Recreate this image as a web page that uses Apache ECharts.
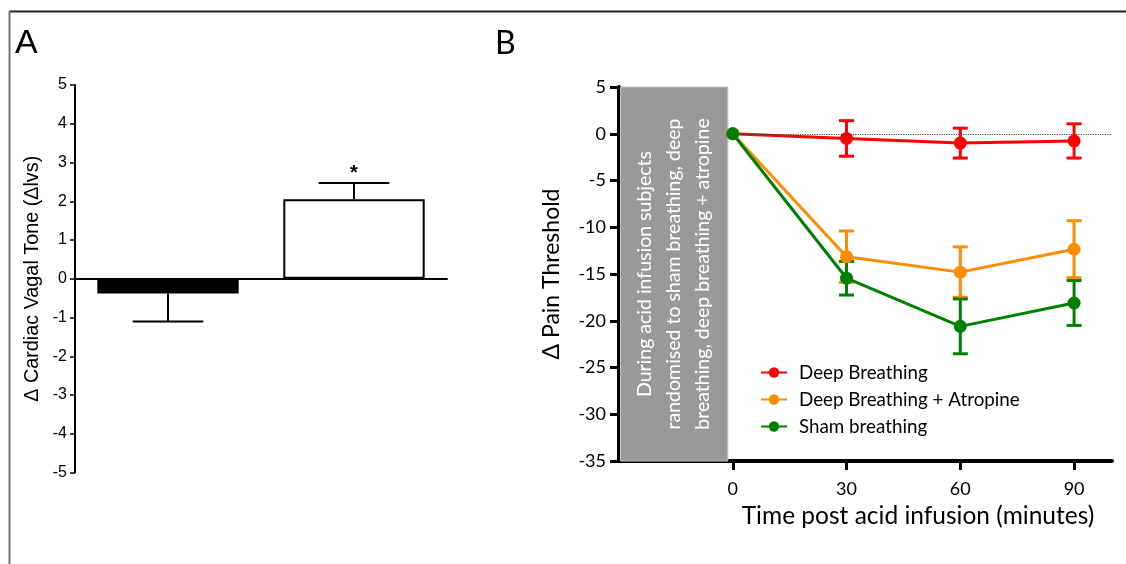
<!DOCTYPE html>
<html><head><meta charset="utf-8">
<script src="https://cdn.jsdelivr.net/npm/echarts@6/dist/echarts.min.js"></script>
<style>html,body{margin:0;padding:0;background:#fff}#c{width:1126px;height:564px}</style>
</head><body><div id="c"></div>
<script>
// ---- Panel A data ----
const groupsA = ['Sham breathing', 'Deep breathing'];
const meanA = [-0.38, 2.05];
const semA = [0.72, 0.42];
const sigA = ['', '*'];

// ---- Panel B data ----
const timeB = [0, 30, 60, 90];
const deepMean = [0, -0.5, -1.0, -0.77];
const deepErr = [0, 1.9, 1.6, 1.83];
const atroMean = [0, -13.15, -14.8, -12.35];
const atroErr = [0, 2.75, 2.7, 3.05];
const shamMean = [0, -15.45, -20.6, -18.1];
const shamErr = [0, 1.8, 2.93, 2.4];
const legendNames = ['Deep Breathing', 'Deep Breathing + Atropine', 'Sham breathing'];
const xTicksB = [0, 30, 60, 90];
const boxRange = [-29.6, -1.3];
const boxText = ['During acid infusion subjects', 'randomised to sham breathing, deep', 'breathing, deep breathing + atropine'];

const FB = 'Lato';
const FA = 'Liberation Sans';
const colors = ['#ff0000', '#ff8c00', '#008000'];

const chart = echarts.init(document.getElementById('c'), null, {renderer: 'canvas'});

function errSeriesB(mean, err, color) {
  return {
    type: 'custom', xAxisIndex: 1, yAxisIndex: 1, silent: true, z: 3,
    data: timeB.map((t, i) => [t, mean[i] - err[i], mean[i] + err[i]]),
    renderItem: function (params, api) {
      const lo = api.value(1), hi = api.value(2);
      if (hi - lo < 1e-6) return null;
      const p1 = api.coord([api.value(0), lo]);
      const p2 = api.coord([api.value(0), hi]);
      const w = 7.5;
      const st = {stroke: color, lineWidth: 3};
      return {type: 'group', children: [
        {type: 'line', shape: {x1: p1[0], y1: p1[1], x2: p2[0], y2: p2[1]}, style: st},
        {type: 'line', shape: {x1: p1[0] - w, y1: p1[1], x2: p1[0] + w, y2: p1[1]}, style: st},
        {type: 'line', shape: {x1: p2[0] - w, y1: p2[1], x2: p2[0] + w, y2: p2[1]}, style: st}
      ]};
    }
  };
}
function lineSeriesB(name, mean, color, extra) {
  return Object.assign({
    name: name, type: 'line', xAxisIndex: 1, yAxisIndex: 1, z: 4,
    data: timeB.map((t, i) => [t, mean[i]]),
    symbol: 'circle', symbolSize: 13, color: color,
    lineStyle: {width: 3, color: color}, itemStyle: {color: color},
    emphasis: {disabled: true}
  }, extra || {});
}

const option = {
  animation: false,
  backgroundColor: '#fff',
  grid: [
    {left: 75, top: 85, width: 372, height: 387.5},
    {left: 619, top: 87, width: 493, height: 374}
  ],
  xAxis: [
    {type: 'category', gridIndex: 0, data: groupsA,
      axisLine: {onZero: true, lineStyle: {color: '#000', width: 2}},
      axisTick: {alignWithLabel: true, length: 5, lineStyle: {color: '#000', width: 1.5}},
      axisLabel: {show: false}, splitLine: {show: false}},
    {type: 'value', gridIndex: 1, min: -30, max: 100, interval: 30,
      axisLine: {onZero: false, lineStyle: {color: '#000', width: 4}},
      axisTick: {customValues: xTicksB, length: 9, lineStyle: {color: '#000', width: 3}},
      axisLabel: {customValues: xTicksB, fontSize: 18, fontFamily: FB, color: '#000', margin: 19},
      splitLine: {show: false},
      name: 'Time post acid infusion (minutes)', nameLocation: 'middle', nameGap: 43,
      nameTextStyle: {fontSize: 24.5, fontFamily: FB, color: '#000', padding: [0, 0, 0, 105]}}
  ],
  yAxis: [
    {type: 'value', gridIndex: 0, min: -5, max: 5, interval: 1,
      axisLine: {show: true, lineStyle: {color: '#000', width: 2}},
      axisTick: {show: true, length: 5, lineStyle: {color: '#000', width: 1.5}},
      axisLabel: {fontSize: 16, fontFamily: FA, color: '#000', margin: 8},
      splitLine: {show: false},
      name: 'Δ Cardiac Vagal Tone (Δlvs)', nameLocation: 'middle', nameGap: 32, nameRotate: 90,
      nameTextStyle: {fontSize: 19.8, fontFamily: FA, color: '#000'}},
    {type: 'value', gridIndex: 1, min: -35, max: 5, interval: 5,
      axisLine: {show: true, onZero: false, lineStyle: {color: '#000', width: 4}},
      axisTick: {show: true, length: 9, lineStyle: {color: '#000', width: 3}},
      axisLabel: {fontSize: 18, fontFamily: FB, color: '#000', margin: 13},
      splitLine: {show: false},
      name: 'Δ Pain Threshold', nameLocation: 'middle', nameGap: 56, nameRotate: 90,
      nameTextStyle: {fontSize: 23, fontFamily: FB, color: '#000'}}
  ],
  legend: {
    data: legendNames, orient: 'vertical', left: 755, top: 358,
    itemWidth: 26, itemHeight: 13, itemGap: 8,
    textStyle: {fontSize: 18.8, fontFamily: FB, color: '#000', padding: [0, 0, 0, 7]},
    selectedMode: false
  },
  series: [
    {type: 'bar', xAxisIndex: 0, yAxisIndex: 0, barWidth: '76%', silent: true,
      data: meanA.map((v, i) => ({value: v, itemStyle: {color: i === 0 ? '#000' : '#fff', borderColor: '#000', borderWidth: 2}}))},
    {type: 'custom', xAxisIndex: 0, yAxisIndex: 0, silent: true, z: 3,
      data: meanA.map((m, i) => [i, m, m + (m < 0 ? -semA[i] : semA[i]), sigA[i]]),
      renderItem: function (params, api) {
        const i = params.dataIndex;
        const p1 = api.coord([api.value(0), api.value(1)]);
        const p2 = api.coord([api.value(0), api.value(2)]);
        const w = api.size([1, 0])[0] * 0.19;
        const st = {stroke: '#000', lineWidth: 2};
        const ch = [
          {type: 'line', shape: {x1: p1[0], y1: p1[1], x2: p2[0], y2: p2[1]}, style: st},
          {type: 'line', shape: {x1: p2[0] - w, y1: p2[1], x2: p2[0] + w, y2: p2[1]}, style: st}
        ];
        if (sigA[i]) ch.push({type: 'text', x: p2[0], y: p2[1] - 10, style: {text: sigA[i], fill: '#000', font: 'bold 20px ' + FA, align: 'center', verticalAlign: 'middle'}});
        return {type: 'group', children: ch};
      }},
    lineSeriesB(legendNames[0], deepMean, colors[0], {
      markLine: {silent: true, symbol: 'none', label: {show: false},
        lineStyle: {type: 'dotted', color: '#444', width: 1.2},
        data: [[{coord: [0, 0]}, {coord: [100, 0]}]]},
      markArea: {silent: true, itemStyle: {color: '#999999', borderColor: '#c4c4c4', borderWidth: 1},
        data: [[{coord: [boxRange[0], 5]}, {coord: [boxRange[1], -35]}]]}
    }),
    lineSeriesB(legendNames[1], atroMean, colors[1]),
    lineSeriesB(legendNames[2], shamMean, colors[2]),
    errSeriesB(deepMean, deepErr, colors[0]),
    errSeriesB(atroMean, atroErr, colors[1]),
    errSeriesB(shamMean, shamErr, colors[2])
  ]
};
chart.setOption(option);

// place panel labels, frame and rotated box text
const c0 = chart.convertToPixel({gridIndex: 1}, [(boxRange[0] + boxRange[1]) / 2, -15]);
const g = [
  {type: 'line', shape: {x1: 9, y1: 11.5, x2: 1126, y2: 11.5}, style: {stroke: '#222', lineWidth: 2}},
  {type: 'line', shape: {x1: 9.5, y1: 11, x2: 9.5, y2: 564}, style: {stroke: '#777', lineWidth: 2}},
  {type: 'text', x: 15, y: 44, style: {text: 'A', font: '34px ' + FA, fill: '#000', verticalAlign: 'middle'}},
  {type: 'text', x: 495, y: 44, style: {text: 'B', font: '32px ' + FB, fill: '#000', verticalAlign: 'middle'}}
];
boxText.forEach((t, i) => {
  g.push({type: 'text', x: c0[0] + (i - 1) * 29, y: c0[1], rotation: Math.PI / 2, z: 10,
    style: {text: t, font: '19.5px ' + FB, fill: '#fff', align: 'center', verticalAlign: 'middle'}});
});
chart.setOption({graphic: g});
</script></body></html>
